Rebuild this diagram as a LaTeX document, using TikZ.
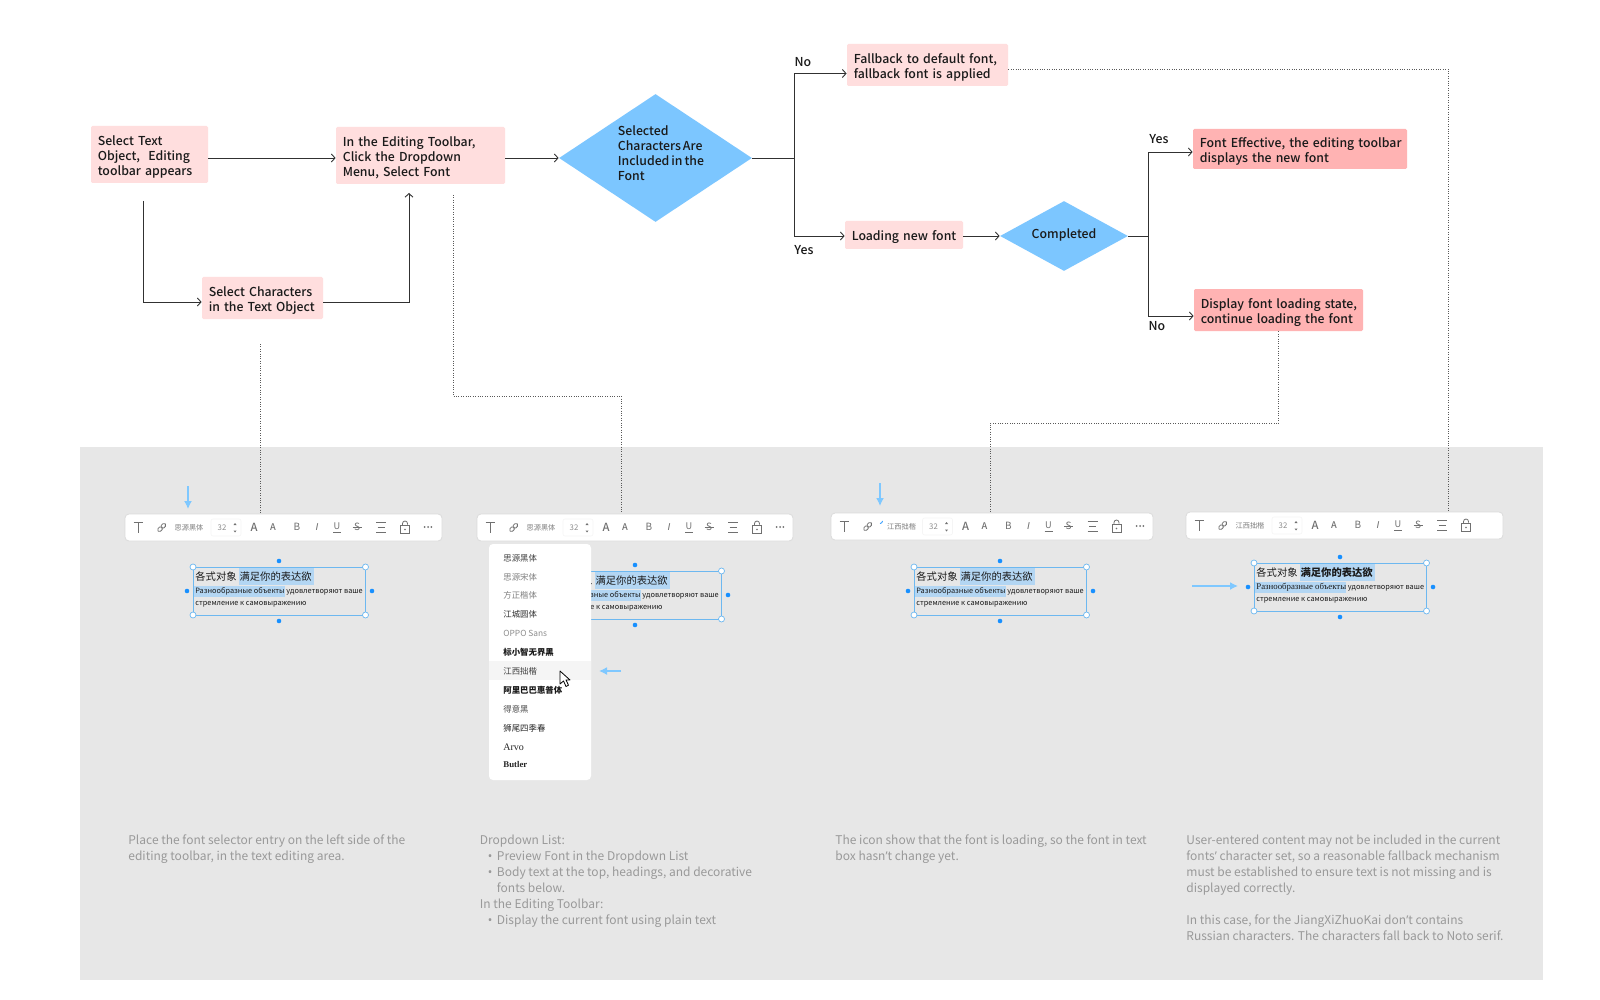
\documentclass[tikz,border=0pt]{standalone}
\usepackage{fontspec}
\setmainfont{Noto Sans CJK SC}
\newfontfamily\med[WordSpace=0.7]{Noto Sans CJK SC Medium}
\newfontfamily\serifru{Liberation Serif}
\newfontfamily\sansit{Liberation Sans}
\newfontfamily\apo{Noto Sans}
\usetikzlibrary{shapes.geometric,arrows.meta,calc}
\definecolor{pinkA}{HTML}{FFDEDE}
\definecolor{pinkB}{HTML}{FFB3B3}
\definecolor{dia}{HTML}{7CC6FF}
\definecolor{panel}{HTML}{E7E7E7}
\definecolor{capt}{HTML}{999999}
\definecolor{ink}{HTML}{1A1A1A}
\definecolor{icon}{HTML}{707070}
\definecolor{sel}{HTML}{6DB8F0}
\definecolor{hl}{HTML}{B3D6F3}
\definecolor{dot}{HTML}{1890FF}
\definecolor{hint}{HTML}{7FC8FF}
\tikzset{
  flow/.style={rectangle,fill=#1,rounded corners=.7pt,align=left,inner xsep=3pt,inner ysep=0pt,text=ink,font=\med\fontsize{6.15}{7.45}\selectfont,execute at begin node={\rule{0pt}{7.2pt}}},
  decide/.style={diamond,fill=dia,inner sep=0pt,aspect=1.5},
  lbl/.style={inner sep=0pt,text=ink,font=\med\fontsize{6.15}{7.45}\selectfont},
  conn/.style={draw=ink!90,line width=.45pt,-{Straight Barb[length=1.8pt,width=4pt,line width=.45pt]}},
  plain/.style={draw=ink!90,line width=.45pt},
  dots/.style={draw=black!65,line width=.4pt,dash pattern=on .5pt off .7pt},
  hintarrow/.style={draw=hint,line width=.75pt,-{Latex[length=4pt,width=4pt]}},
  bar/.style={rectangle,inner sep=0pt,fill=white,draw=black!14,line width=.4pt,rounded corners=2pt},
  ic/.style={draw=icon,line width=.4pt},
  ict/.style={inner sep=0pt,text=icon},
  capnode/.style={anchor=north west,inner sep=0pt,align=left,text=capt,font=\fontsize{6}{8}\selectfont},
  item/.style={anchor=west,inner sep=0pt,font=\fontsize{4.2}{5}\selectfont},
  tline/.style={anchor=west,inner sep=0pt,text=ink}
}
\newcommand{\bul}{\hspace*{4pt}\makebox[4.5pt][l]{\apo •}}
\newcommand{\ap}{{\apo ’}}
\newcommand{\LL}[1]{\hspace*{.4pt}\makebox[0pt][l]{#1}}
% name, x, y, width, label, right-part offset
\newcommand{\toolbar}[6]{%
\begin{scope}[shift={(#2,#3)}]
 \def\g{#6}
 \node[bar,minimum width=#4*.5pt,minimum height=13.5pt] (#1) at (#4/2,13.5) {};
 \draw[ic,line width=.5pt] (8.5,8.5) -- (17.5,8.5) (13,8.5) -- (13,18.5);
 \begin{scope}[shift={(36.7,13.5)},rotate=45]
  \draw[ic,rounded corners=.8pt] (-5,-1.8) rectangle (.5,1.8);
  \draw[ic,rounded corners=.8pt] (-.5,-1.8) rectangle (5,1.8);
 \end{scope}
 \node[ict,font=\fontsize{3.6}{4}\selectfont,text=black!50] (#1font) at (64+\g*1.2,13.5) {#5};
 \draw[black!4,line width=.3pt,rounded corners=1pt] (86+\g,5) rectangle (116+\g,22);
 \node[ict,font=\fontsize{3.9}{4}\selectfont,text=black!45] (#1size) at (97+\g,13.5) {32};
 \fill[icon] (108.5+\g,11) -- (111.5+\g,11) -- (110+\g,9) -- cycle (108.5+\g,16.5) -- (111.5+\g,16.5) -- (110+\g,18.5) -- cycle;
 \node[ict,font=\med\fontsize{5.6}{6}\selectfont] (#1aa) at (129+\g,13.5) {A};
 \node[ict,font=\med\fontsize{4.6}{5}\selectfont] (#1ab) at (148+\g,13.5) {A};
 \node[ict,font=\fontsize{5}{6}\selectfont] (#1b) at (172+\g,13.3) {B};
 \node[ict,font=\sansit\itshape\fontsize{5}{6}\selectfont] (#1i) at (192+\g,13.3) {I};
 \node[ict,font=\fontsize{4.6}{6}\selectfont] (#1u) at (212+\g,12.6) {U};
 \draw[ic] (208+\g,18.2) -- (216+\g,18.2);
 \node[ict,font=\fontsize{5}{6}\selectfont] (#1s) at (232+\g,13.3) {S};
 \draw[ic] (227.5+\g,13.5) -- (236.5+\g,13.5);
 \draw[ic] (251+\g,8.5) -- (261+\g,8.5) (252.5+\g,13.5) -- (259.5+\g,13.5) (251+\g,18.5) -- (261+\g,18.5);
 \draw[ic] (275.5+\g,11.5) rectangle (284.5+\g,19.5);
 \draw[ic] (277.5+\g,11.5) -- (277.5+\g,9.5) arc[start angle=180,end angle=0,x radius=2.5,y radius=-2.5] -- (282.5+\g,10.5);
 \fill[icon] (280+\g,15.5) circle[radius=.9];
\end{scope}}
\newcommand{\tooldots}[2]{\fill[icon] (#1-3.3,#2) circle[radius=1] (#1,#2) circle[radius=1] (#1+3.3,#2) circle[radius=1];}
% name, x, y, first-part, second-part, ru-font
\newcommand{\textbox}[6]{%
\begin{scope}[shift={(#2,#3)}]
 \fill[hl] (46,1) rectangle (121,18);
 \fill[hl] (1,19) rectangle (92,30);
 \node[tline,font=\fontsize{5.15}{6}\selectfont] (#1a) at (2,10) {#4\hspace{1.5pt}#5};
 \node[tline,font=\fontsize{3.68}{5}\selectfont] (#1b) at (2,24) {{#6Разнообразные объекты} удовлетворяют ваше};
 \node[tline,font=\fontsize{3.68}{5}\selectfont] (#1c) at (2,37.5) {стремление к самовыражению};
 \draw[sel,line width=.4pt] (0,0) rectangle (172.5,48);
 \fill[dot] (86,-6) circle[radius=2.3] (86,54) circle[radius=2.3] (-6,24) circle[radius=2.3] (179,24) circle[radius=2.3];
 \foreach \p in {(0,0),(172.5,0),(0,48),(172.5,48)} \filldraw[fill=white,draw=sel,line width=.35pt] \p circle[radius=3];
\end{scope}}
\begin{document}
\begin{tikzpicture}[x=.5pt,y=-.5pt]
\useasboundingbox (0,0) rectangle (1600,1000);
\fill[white] (0,0) rectangle (1600,1000);
\fill[panel] (80,447) rectangle (1543,980);

% flow nodes
\node[flow=pinkA,text width=52.5pt,minimum height=28.5pt] (s1) at (149.5,154.5) {\LL{Select Text}\\\LL{Object,\ \ Editing}\\\LL{toolbar appears}};
\node[flow=pinkA,text width=78.5pt,minimum height=28.5pt] (s2) at (420.5,155.5) {\LL{In the Editing Toolbar,}\\\LL{Click the Dropdown}\\\LL{Menu, Select Font}};
\node[flow=pinkA,text width=54.5pt,minimum height=21pt] (s3) at (262.5,298) {\LL{Select Characters}\\\LL{in the Text Object}};
\node[decide,minimum width=96.5pt,minimum height=64pt] (d1) at (655.5,158) {};
\node[lbl,anchor=west,align=left] (d1t) at (617.5,153) {\mbox{Selected}\\\mbox{Characters Are}\\\mbox{Included in the}\\\mbox{Font}};
\node[flow=pinkA,text width=74.5pt,minimum height=21pt] (f1) at (927.5,65) {\LL{Fallback to default font,}\\\LL{fallback font is applied}};
\node[flow=pinkA,text width=53pt,minimum height=14pt] (l1) at (904,235) {\LL{Loading new font}};
\node[decide,aspect=1.8,minimum width=64pt,minimum height=35pt] (d2) at (1064,236) {};
\node[lbl] (d2t) at (1064,234.5) {Completed};
\node[flow=pinkB,text width=101pt,minimum height=20pt] (e1) at (1300,149) {\LL{Font Effective, the editing toolbar}\\\LL{displays the new font}};
\node[flow=pinkB,text width=78.5pt,minimum height=21pt] (e2) at (1278.5,310) {\LL{Display font loading state,}\\\LL{continue loading the font}};

\node[lbl] (no1) at (803,62) {No};
\node[lbl] (yes1) at (804,250.5) {Yes};
\node[lbl] (yes2) at (1159,139.5) {Yes};
\node[lbl] (no2) at (1157,326.5) {No};

% connectors
\coordinate (c1) at (143,201);
\coordinate (c2) at (409,193);
\coordinate (b1) at (794,158);
\coordinate (b2) at (1148,236);
\draw[conn] (s1.east |- 0,158) -- (s2.west |- 0,158);
\draw[conn] (s2.east |- 0,158) -- (d1.west);
\draw[conn] (c1) -- (143,302) -- (s3.west |- 0,302);
\draw[conn] (s3.east |- 0,302) -- (c2 |- 0,302) -- (c2);
\draw[plain] (d1.east) -- (b1);
\draw[conn] (b1) -- (794,73.5) -- (f1.west |- 0,73.5);
\draw[conn] (b1) -- (794,236) -- (l1.west |- 0,236);
\draw[conn] (l1.east |- 0,236) -- (d2.west);
\draw[plain] (d2.east) -- (b2);
\draw[conn] (b2) -- (1148,152) -- (e1.west |- 0,152);
\draw[conn] (b2) -- (1148,316) -- (e2.west |- 0,316);

% toolbars and text boxes
\toolbar{ta}{125}{514}{317}{思源黑体}{0}
\tooldots{428}{527}
\toolbar{tb}{477}{514}{316}{思源黑体}{0}
\tooldots{780}{527}
\toolbar{tc}{831}{513}{322}{江西拙楷}{5.5}
\tooldots{1140}{526}
\draw[dot,line width=.4pt] (880,523.5) arc[start angle=90,end angle=0,radius=2.5];
\toolbar{td}{1186}{512}{317}{江西拙楷}{0}

% dotted leaders
\coordinate (t1) at (260,344);
\coordinate (t2) at (453,195);
\coordinate (t3) at (621.5,396);
\coordinate (t4) at (1278.5,423.5);
\coordinate (t5) at (990,423.5);
\coordinate (t6) at (1448,69);
\draw[dots] (t1) -- (t1 |- ta.north);
\draw[dots] (t2) -- (t2 |- t3) -- (t3) -- (t3 |- tb.north);
\draw[dots] (t4 |- e2.south) -- (t4) -- (t5) -- (t5 |- tc.north);
\draw[dots] (f1.east |- t6) -- (t6) -- (t6 |- td.north);

\textbox{ba}{193}{567}{各式对象}{满足你的表达欲}{}
\textbox{bb}{549}{571}{各式对象}{满足你的表达欲}{}
\textbox{bc}{914}{567}{各式对象}{满足你的表达欲}{}
\textbox{bd}{1254}{563}{各式对象}{{\bfseries 满足你的表达欲}}{\serifru\fontsize{4.4}{5}\selectfont}

% dropdown
\fill[white,rounded corners=2pt] (489,544) rectangle (591,780);
\fill[black!4] (489,661) rectangle (591,680);
\node[item,text=black!75] (m1) at (503,558) {思源黑体};
\node[item,text=black!50] (m2) at (503,577) {思源宋体};
\node[item,text=black!50] (m3) at (503,595) {方正楷体};
\node[item,text=black!80] (m4) at (503,614) {江城圆体};
\node[item,text=black!45] (m5) at (503,633) {OPPO Sans};
\node[item,text=black!90,font=\fontsize{4.2}{5}\selectfont\bfseries] (m6) at (503,652) {标小智无界黑};
\node[item,text=black!75] (m7) at (503,671) {江西拙楷};
\node[item,text=black!90,font=\fontsize{4.2}{5}\selectfont\bfseries] (m8) at (503,690) {阿里巴巴惠普体};
\node[item,text=black!70] (m9) at (503,709) {得意黑};
\node[item,text=black!85] (m10) at (503,728) {狮尾四季春};
\node[item,text=black!85,font=\serifru\fontsize{5}{5}\selectfont] (m11) at (503,747) {Arvo};
\node[item,text=black!85,font=\serifru\bfseries\fontsize{4.4}{5}\selectfont] (m12) at (503,764) {Butler};
\filldraw[fill=white,draw=black,line width=.4pt,line join=round] (560,671) -- (560,684) -- (563.5,681) -- (566,686.5) -- (568.5,685.2) -- (566,680) -- (570,680) -- cycle;

% hint arrows
\coordinate (h1) at (188,486);
\coordinate (h2) at (880,483);
\coordinate (h3) at (621,671);
\coordinate (h4) at (1192,586);
\draw[hintarrow] (h1) -- (188,509);
\draw[hintarrow] (h2) -- (880,506);
\draw[hintarrow] (h3) -- (599,671);
\draw[hintarrow] (h4) -- (1238,586);

% captions
\node[capnode] (k1) at (128,834.5) {Place the font selector entry on the left side of the\\editing toolbar, in the text editing area.};
\node[capnode] (k2) at (479.5,834.5) {Dropdown List:\\\bul Preview Font in the Dropdown List\\\bul Body text at the top, headings, and decorative\\\hspace*{8.5pt}fonts below.\\In the Editing Toolbar:\\\bul Display the current font using plain text};
\node[capnode] (k3) at (835,834.5) {The icon show that the font is loading, so the font in text\\box hasn\ap t change yet.};
\node[capnode] (k4) at (1186,834.5) {User-entered content may not be included in the current\\fonts\ap{} character set, so a reasonable fallback mechanism\\must be established to ensure text is not missing and is\\displayed correctly.\\[8pt]In this case, for the JiangXiZhuoKai don\ap t contains\\Russian characters. The characters fall back to Noto serif.};
\end{tikzpicture}
\end{document}
